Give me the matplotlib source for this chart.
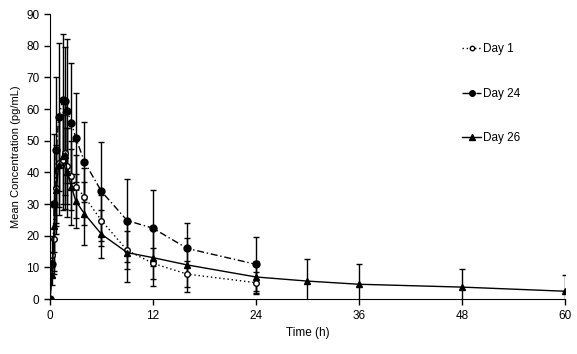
import matplotlib
matplotlib.use("Agg")
import matplotlib.pyplot as plt

# Temps (h) et concentrations moyennes (pg/mL)
t_early = [0, 0.25, 0.5, 0.75, 1, 1.5, 1.75, 2, 2.5, 3, 4, 6, 9, 12, 16, 24]
t_day26 = t_early + [30, 36, 48, 60]

day1 = [0, 14, 19, 35, 43, 44, 46, 42, 39, 35.5, 32.4, 24.8, 15.4, 11.3, 7.9, 5.2]
day1_sd = [0, 6, 10, 12, 14, 14, 13, 12, 11, 10, 9, 8, 6, 5, 4, 3.5]

day24 = [0, 11, 30, 47, 57.5, 63, 62.6, 59.4, 55.6, 51, 43.4, 34, 24.8, 22.4, 16, 11]
day24_sd = [0, 4, 22, 23, 23.5, 20.6, 17, 22.6, 19, 14, 12.6, 15.7, 13, 12, 8, 8.5]

day26 = [0, 7.5, 23, 34.6, 42.5, 45.3, 45.6, 40, 35.5, 31, 27, 20.5, 14.7, 13.1,
         10.8, 7, 5.7, 4.7, 3.8, 2.5]
day26_sd = [0, 3, 8, 14, 16, 17, 17, 14, 12, 8.6, 10, 7.5, 9.4, 9, 8.6, 5,
            7, 6.3, 5.6, 5]

plt.rcParams["font.family"] = ["Liberation Sans", "DejaVu Sans"]

fig = plt.figure(figsize=(5.77, 3.54), dpi=100)
ax = fig.add_axes([0.0867, 0.155, 0.892, 0.805])

kw = dict(color="black", ecolor="black", elinewidth=1, capsize=2.5, capthick=1,
          lw=1)
e1 = ax.errorbar(t_early, day1, yerr=day1_sd, ls=(0, (1, 2)), marker="o", ms=4,
                 mfc="white", mec="black", **kw)
e24 = ax.errorbar(t_early, day24, yerr=day24_sd, ls=(0, (5, 2, 1, 2)),
                  marker="o", ms=5, mfc="black", mec="black", **kw)
e26 = ax.errorbar(t_day26, day26, yerr=day26_sd, ls="-", marker="^", ms=5,
                  mfc="black", mec="black", **kw)

ax.set_xlim(0, 60)
ax.set_ylim(0, 90)
ax.set_xticks([0, 12, 24, 36, 48, 60])
ax.set_yticks(range(0, 91, 10))
ax.spines["top"].set_visible(False)
ax.spines["right"].set_visible(False)
ax.tick_params(direction="out", length=4, labelsize=8.5, width=1)
ax.set_xlabel("Time (h)", fontsize=8.5)
ax.set_ylabel("Mean Concentration (pg/mL)", fontsize=8)

# legende sans barres d'erreur
ax.legend([e1.lines[0], e24.lines[0], e26.lines[0]], ["Day 1", "Day 24", "Day 26"],
          loc="upper left", bbox_to_anchor=(0.78, 0.935), frameon=False,
          fontsize=8.5, labelspacing=2.75, handlelength=1.6, handletextpad=0.2,
          markerscale=0.8)

fig.savefig("out.png", dpi=100)
